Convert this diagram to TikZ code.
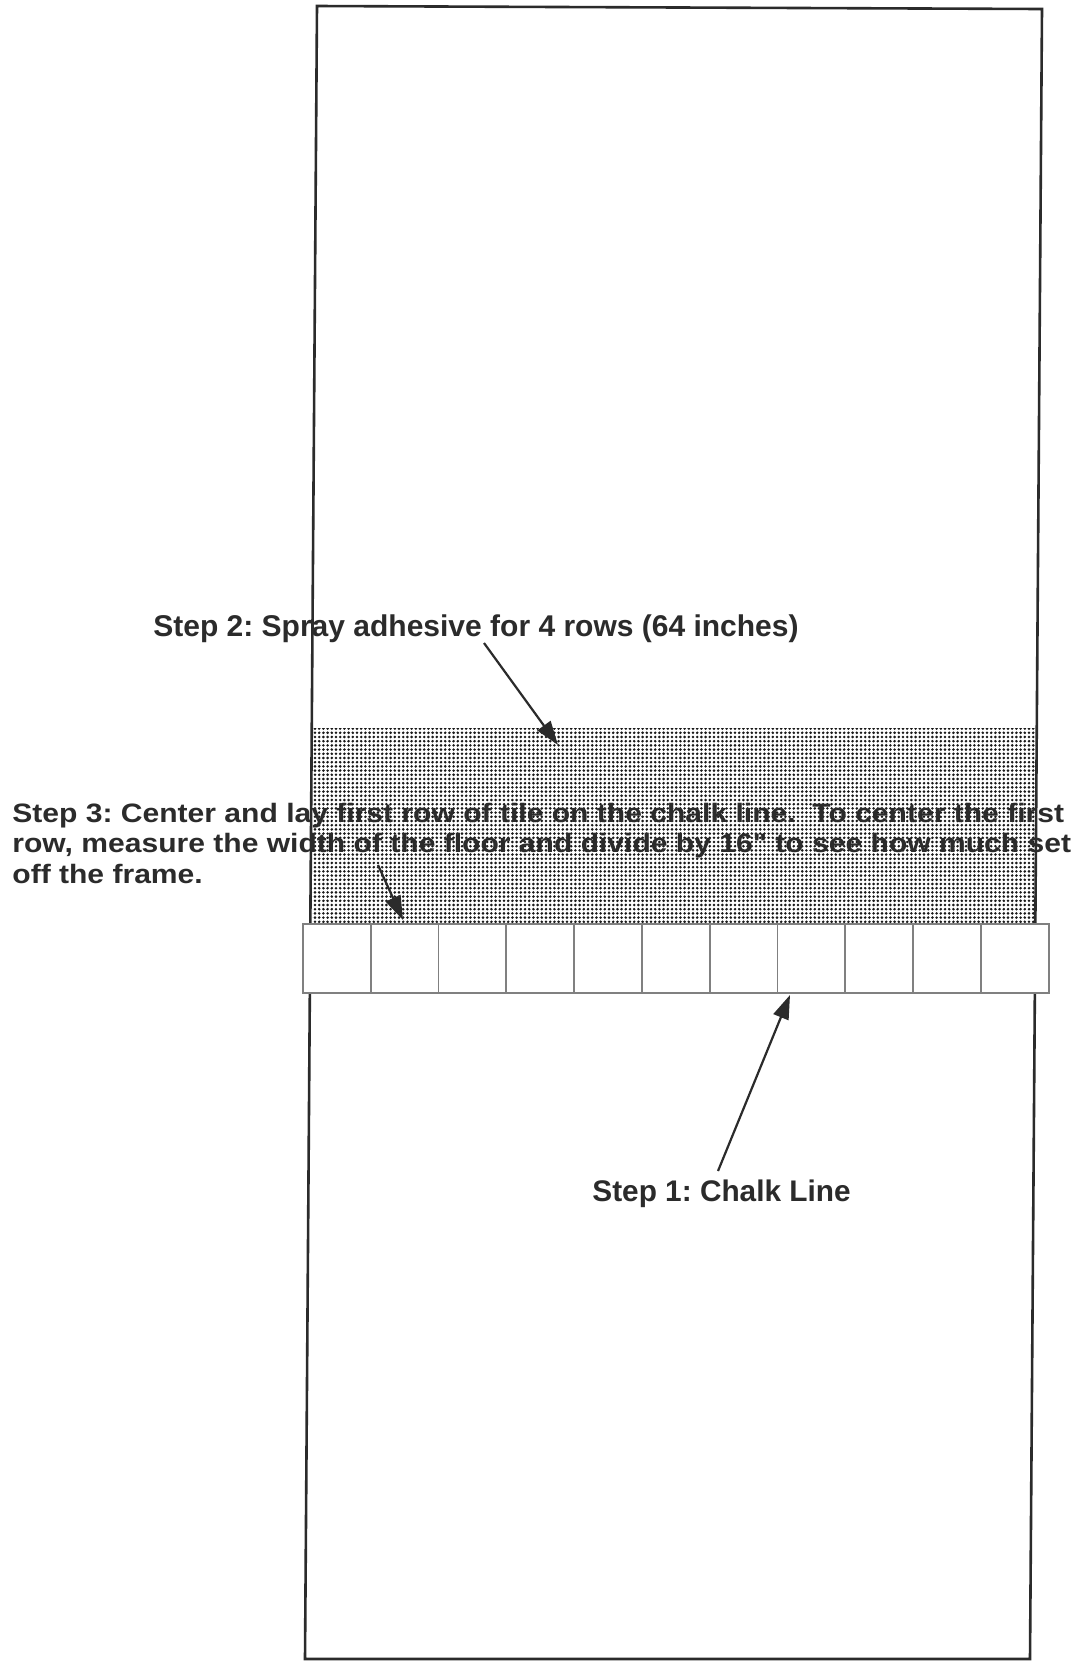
\documentclass[tikz,border=0pt]{standalone}
\usepackage{fontspec}
\setmainfont{Liberation Sans}
\newfontfamily\widefont[FakeStretch=1.13]{Liberation Sans}
\usetikzlibrary{arrows.meta,patterns.meta}
\definecolor{ink}{HTML}{2B2B2B}
\frenchspacing
\tikzset{
  framestyle/.style={draw=ink, line width=1.3pt, line join=miter},
  tilestyle/.style={draw=black!50, line width=0.9pt, fill=white},
  shadestyle/.style={pattern={Dots[distance=2.1pt, radius=0.72pt]}, pattern color=black!90},
  labelstyle/.style={inner sep=0pt, text=ink, font=\bfseries},
  pointer/.style={draw=ink, line width=1.1pt, -{Triangle[length=12pt,width=8pt]}}
}
\begin{document}
\begin{tikzpicture}[x=0.5pt,y=-0.5pt]
\useasboundingbox (0,0) rectangle (1078,1661);
\fill[white] (0,0) rectangle (1078,1661);
% adhesive area
\path[shadestyle] (313,728) -- (1035,728) -- (1035,925) -- (312,925) -- cycle;
% floor frame
\draw[framestyle] (317,6) coordinate (tl) -- (1042,9) coordinate (tr)
   -- (1030,1659) coordinate (br) -- (305,1659) coordinate (bl) -- cycle;
% first row of tiles
\foreach \i in {0,...,10} {
  \node[tilestyle, minimum width=33.9pt, minimum height=34.5pt, inner sep=0pt, anchor=north west]
    (tile\i) at ({302+\i*67.8},923) {};
}
% labels
\node[labelstyle, anchor=base west, font=\bfseries\fontsize{15}{18}\selectfont]
  (step2) at (153,636) {Step 2: Spray adhesive for 4 rows (64 inches)};
\node[labelstyle, anchor=base west, font=\bfseries\widefont\fontsize{13.3}{15.3}\selectfont]
  (step3) at (12,822) {\begin{tabular}[t]{@{}l@{}}Step 3: Center and lay first row of tile on the chalk line.\ \ To center the first\\
row, measure the width of the floor and divide by 16" to see how much set\\
off the frame.\end{tabular}};
\node[labelstyle, anchor=base west, font=\bfseries\fontsize{14.9}{18}\selectfont]
  (step1) at (592,1201) {Step 1: Chalk Line};
% arrows
\coordinate (a2s) at (484,643);
\coordinate (a2e) at (558,745);
\coordinate (a3s) at (378,865);
\coordinate (a3e) at (403,920);
\coordinate (a1s) at (718,1171);
\coordinate (a1e) at (790,995);
\draw[pointer] (a2s) -- (a2e);
\draw[pointer] (a3s) -- (a3e);
\draw[pointer] (a1s) -- (a1e);
\end{tikzpicture}
\end{document}
